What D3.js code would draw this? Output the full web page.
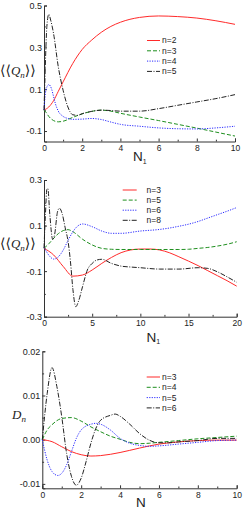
<!DOCTYPE html>
<html>
<head>
<meta charset="utf-8">
<script src="https://cdn.jsdelivr.net/npm/d3@7"></script>
<style>
  body { margin: 0; background: #fff; }
  svg text { font-family: "Liberation Sans", Arial, sans-serif; fill: #222; }
  .axis path, .axis line { stroke: #333; stroke-width: 1; }
</style>
</head>
<body>
<div id="chart"></div>
<script>
// ---- panel 1: <<Q_n>> vs N1 (0..10)
const p1Labels = ["n=2", "n=3", "n=4", "n=5"];
const p1n2 = [[0,0],[0.25,0.015],[0.5,0.045],[0.75,0.09],[1,0.135],[1.5,0.222],[2,0.29],[2.5,0.335],[3,0.372],[3.5,0.4],[4,0.42],[5,0.443],[6,0.45],[7,0.447],[8,0.44],[9,0.427],[10,0.41]];
const p1n3 = [[0,0],[0.1,-0.01],[0.25,-0.03],[0.5,-0.05],[0.75,-0.056],[1,-0.053],[1.5,-0.035],[2,-0.018],[2.5,-0.006],[3,0],[3.5,-0.005],[4,-0.015],[5,-0.033],[6,-0.05],[7,-0.068],[8,-0.086],[9,-0.105],[10,-0.124]];
const p1n4 = [[0,0],[0.05,0.06],[0.1,0.095],[0.25,0.122],[0.4,0.1],[0.5,0.065],[0.6,0.03],[0.75,-0.005],[1,-0.03],[1.25,-0.04],[1.5,-0.044],[2,-0.043],[2.5,-0.04],[3,-0.045],[3.5,-0.057],[4,-0.068],[5,-0.077],[6,-0.085],[7,-0.089],[8,-0.09],[9,-0.085],[10,-0.077]];
const p1n5 = [[0,0],[0.05,0.15],[0.1,0.3],[0.15,0.4],[0.25,0.458],[0.35,0.43],[0.5,0.366],[0.75,0.206],[1,0.095],[1.25,0.015],[1.5,-0.022],[1.75,-0.025],[2,-0.017],[2.5,-0.006],[3,0],[3.5,-0.002],[4,-0.005],[5,-0.005],[6,0.007],[7,0.023],[8,0.039],[9,0.055],[10,0.074]];
const p1XTicks = [0, 2, 4, 6, 8, 10], p1XMinor = [1, 3, 5, 7, 9];
const p1YTicks = [-0.1, 0.1, 0.3, 0.5], p1YMinor = [0, 0.2, 0.4];

// ---- panel 2: <<Q_n>> vs N1 (0..20)
const p2Labels = ["n=3", "n=5", "n=6", "n=8"];
const p2n3 = [[0,0],[1,-0.029],[2,-0.08],[3,-0.122],[4,-0.117],[5,-0.095],[6,-0.066],[7,-0.04],[8,-0.019],[9,-0.007],[10,-0.003],[11,-0.003],[12,-0.007],[13,-0.019],[14,-0.037],[15,-0.056],[16,-0.076],[17,-0.098],[18,-0.12],[19,-0.142],[20,-0.166]];
const p2n5 = [[0,0],[0.5,0.02],[1,0.044],[1.5,0.065],[2,0.078],[2.5,0.082],[3,0.073],[4,0.04],[5,0.015],[6,0],[7,-0.004],[8,-0.005],[10,-0.005],[12,-0.005],[14,-0.005],[15,-0.004],[16,0],[17,0.004],[18,0.01],[19,0.018],[20,0.029]];
const p2n6 = [[0,0.005],[0.5,-0.03],[1,-0.047],[1.5,-0.037],[2,-0.007],[2.5,0.035],[3,0.073],[3.5,0.098],[4,0.107],[5,0.095],[6,0.076],[7,0.066],[8,0.066],[10,0.076],[12,0.083],[13,0.089],[14,0.097],[15,0.106],[16,0.118],[17,0.133],[18,0.148],[19,0.163],[20,0.179]];
const p2n8 = [[0,0],[0.15,0.15],[0.3,0.26],[0.4,0.262],[0.6,0.15],[0.9,0.04],[1.1,0.06],[1.4,0.16],[1.6,0.176],[1.9,0.15],[2.2,0.09],[2.5,0.03],[2.75,-0.06],[3,-0.18],[3.3,-0.256],[3.6,-0.23],[4,-0.168],[4.5,-0.095],[5,-0.066],[5.5,-0.051],[6,-0.048],[7,-0.066],[8,-0.078],[9,-0.082],[10,-0.085],[12,-0.091],[14,-0.091],[16,-0.085],[17,-0.088],[18,-0.103],[19,-0.125],[20,-0.149]];
const p2XTicks = [0, 5, 10, 15, 20], p2XMinor = [2.5, 7.5, 12.5, 17.5];
const p2YTicks = [-0.3, -0.1, 0.1, 0.3], p2YMinor = [-0.2, 0, 0.2];

// ---- panel 3: D_n vs N (0..10)
const p3Labels = ["n=3", "n=4", "n=5", "n=6"];
const p3n3 = [[0,0],[0.5,-0.00045],[1,-0.0016],[1.5,-0.0027],[2,-0.0034],[2.5,-0.0037],[3,-0.0036],[4,-0.0029],[5,-0.0019],[6,-0.001],[7,-0.0005],[8,-0.0002],[9,-0.0001],[10,-0.0001]];
const p3n4 = [[0,0],[0.25,0.0022],[0.5,0.0034],[1,0.0048],[1.5,0.005],[2,0.0042],[2.5,0.0029],[3,0.0018],[3.5,0.0008],[4,0.0001],[4.5,-0.0006],[5,-0.0009],[5.5,-0.0008],[6,-0.0006],[7,-0.0002],[8,0.0002],[9,0.0005],[10,0.0008]];
const p3n5 = [[0,0],[0.25,-0.0046],[0.5,-0.0072],[0.8,-0.0081],[1,-0.0076],[1.25,-0.0057],[1.5,-0.0027],[1.75,0.0003],[2,0.0022],[2.5,0.0035],[2.75,0.0037],[3,0.0035],[3.5,0.0022],[4,0.0003],[4.5,-0.0008],[5,-0.0013],[5.5,-0.0015],[6,-0.0014],[7,-0.001],[8,-0.0006],[9,-0.0002],[10,-0.0001]];
const p3n6 = [[0,0],[0.25,0.0104],[0.5,0.0163],[0.75,0.012],[1,0.0052],[1.25,-0.0031],[1.5,-0.0083],[1.75,-0.0103],[2,-0.0087],[2.25,-0.005],[2.5,-0.0008],[2.75,0.0025],[3,0.0044],[3.5,0.0055],[3.75,0.0058],[4,0.0053],[4.5,0.0035],[5,0.0014],[5.5,-0.0001],[6,-0.0007],[6.5,-0.0007],[7,-0.0005],[8,-0.0002],[9,0.0003],[10,0.0003]];
const p3XTicks = [0, 2, 4, 6, 8, 10], p3XMinor = [1, 3, 5, 7, 9];
const p3YTicks = [-0.01, 0, 0.01, 0.02], p3YMinor = [-0.005, 0.005, 0.015];

const styles = [
  { color: "#ff2a2a", dash: null },
  { color: "#1f8f1f", dash: "4,2" },
  { color: "#2b2bff", dash: "1.2,1.3" },
  { color: "#222", dash: "5,1.5,1,1.5" },
];

const W = 243, H = 508;
const svg = d3.select("#chart").append("svg").attr("width", W).attr("height", H);

const hyphen = (fmt) => (d) => d3.format(fmt)(d).replace("\u2212", "-");

const panels = [
  {
    series: [p1n2, p1n3, p1n4, p1n5], labels: p1Labels,
    xDomain: [0, 10], yDomain: [-0.15, 0.5],
    left: 44, right: 235, top: 5.5, bottom: 141.5,
    xTicks: p1XTicks, xMinor: p1XMinor, yTicks: p1YTicks, yMinor: p1YMinor,
    xFmt: hyphen("d"), yFmt: hyphen(".1f"),
    legend: { x0: 147, x1: 160, tx: 162, y: 40.5, dy: 10.3 },
    xTitle: { x: 133, y: 161, main: "N", sub: "1" },
    yTitle: { x: 0, y: 75, kind: "Q" },
  },
  {
    series: [p2n3, p2n5, p2n6, p2n8], labels: p2Labels,
    xDomain: [0, 20], yDomain: [-0.3, 0.3],
    left: 44, right: 236.7, top: 180, bottom: 316.7,
    xTicks: p2XTicks, xMinor: p2XMinor, yTicks: p2YTicks, yMinor: p2YMinor,
    xFmt: hyphen("d"), yFmt: hyphen(".1f"),
    legend: { x0: 122.7, x1: 136.7, tx: 146.5, y: 190, dy: 10.1 },
    xTitle: { x: 146.5, y: 341.5, main: "N", sub: "1" },
    yTitle: { x: 0, y: 248, kind: "Q" },
  },
  {
    series: [p3n3, p3n4, p3n5, p3n6], labels: p3Labels,
    xDomain: [0, 10], yDomain: [-0.011, 0.02],
    left: 42.3, right: 236.7, top: 351.3, bottom: 488.3,
    xTicks: p3XTicks, xMinor: p3XMinor, yTicks: p3YTicks, yMinor: p3YMinor,
    xFmt: hyphen("d"), yFmt: hyphen(".2f"),
    legend: { x0: 146.7, x1: 160, tx: 162, y: 377, dy: 10.3 },
    xTitle: { x: 136, y: 506.5, main: "N", sub: null },
    yTitle: { x: 12, y: 419, kind: "D" },
  },
];

panels.forEach(drawPanel);

function drawPanel(p) {
  const x = d3.scaleLinear().domain(p.xDomain).range([p.left, p.right]);
  const y = d3.scaleLinear().domain(p.yDomain).range([p.bottom, p.top]);
  const g = svg.append("g");

  // axes: major ticks with labels, minor ticks without
  g.append("g")
    .attr("class", "axis")
    .attr("transform", `translate(0,${p.bottom})`)
    .call(d3.axisBottom(x).tickValues(p.xTicks).tickFormat(p.xFmt).tickSize(-3).tickPadding(3.5))
    .call((a) => a.selectAll("text").style("font-size", "8.5px"));
  g.append("g")
    .attr("class", "axis")
    .attr("transform", `translate(0,${p.bottom})`)
    .call(d3.axisBottom(x).tickValues(p.xMinor).tickFormat("").tickSize(-1.8))
    .call((a) => a.select(".domain").remove());

  g.append("g")
    .attr("class", "axis")
    .attr("transform", `translate(${p.left},0)`)
    .call(d3.axisLeft(y).tickValues(p.yTicks).tickFormat(p.yFmt).tickSize(-3).tickPadding(2))
    .call((a) => a.selectAll("text").style("font-size", "9px"));
  g.append("g")
    .attr("class", "axis")
    .attr("transform", `translate(${p.left},0)`)
    .call(d3.axisLeft(y).tickValues(p.yMinor).tickFormat("").tickSize(-1.8))
    .call((a) => a.select(".domain").remove());

  // curves
  const line = d3.line()
    .x((d) => x(d[0]))
    .y((d) => y(d[1]))
    .curve(d3.curveMonotoneX);

  g.selectAll("path.curve")
    .data(p.series)
    .enter()
    .append("path")
    .attr("class", "curve")
    .attr("d", line)
    .style("fill", "none")
    .style("stroke", (d, i) => styles[i].color)
    .style("stroke-width", "1px")
    .style("stroke-dasharray", (d, i) => styles[i].dash);

  // legend
  const lg = g.selectAll("g.leg")
    .data(p.labels)
    .enter()
    .append("g")
    .attr("class", "leg")
    .attr("transform", (d, i) => `translate(0,${p.legend.y + i * p.legend.dy})`);
  lg.append("line")
    .attr("x1", p.legend.x0)
    .attr("x2", p.legend.x1)
    .style("stroke", (d, i) => styles[i].color)
    .style("stroke-width", "1px")
    .style("stroke-dasharray", (d, i) => styles[i].dash);
  lg.append("text")
    .attr("x", p.legend.tx)
    .attr("dy", "0.35em")
    .style("font-size", "8.5px")
    .text((d) => d);

  // x title
  const xt = g.append("text")
    .attr("x", p.xTitle.x)
    .attr("y", p.xTitle.y)
    .style("font-size", "13.5px");
  xt.append("tspan").text(p.xTitle.main);
  if (p.xTitle.sub) {
    xt.append("tspan").attr("dy", "2.5").style("font-size", "7px").text(p.xTitle.sub);
  }

  // y title
  const yt = g.append("text")
    .attr("x", p.yTitle.x)
    .attr("y", p.yTitle.y)
    .style("font-family", "'Liberation Serif', 'DejaVu Serif', serif")
    .style("font-size", "13px");
  if (p.yTitle.kind === "Q") {
    yt.append("tspan").style("font-family", "'DejaVu Serif', serif").style("font-size", "14px").text("\u27E8\u27E8");
    yt.append("tspan").style("font-style", "italic").text("Q");
    yt.append("tspan").attr("dy", "2.5").style("font-style", "italic").style("font-size", "9px").text("n");
    yt.append("tspan").attr("dy", "-2.5").style("font-family", "'DejaVu Serif', serif").style("font-size", "14px").text("\u27E9\u27E9");
  } else {
    yt.append("tspan").style("font-style", "italic").text("D");
    yt.append("tspan").attr("dy", "2.5").style("font-style", "italic").style("font-size", "9px").text("n");
  }
}
</script>
</body>
</html>
